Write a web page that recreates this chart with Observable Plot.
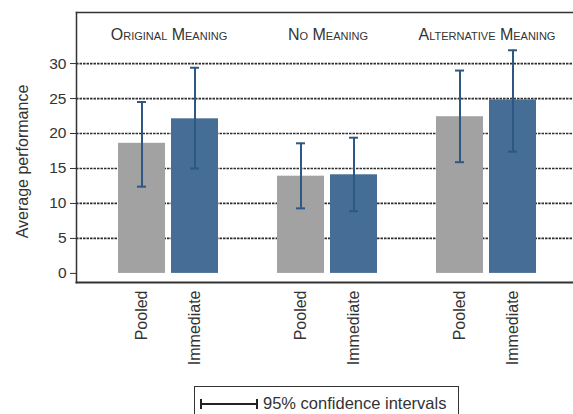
<!DOCTYPE html>
<html><head><meta charset="utf-8">
<script src="https://cdn.jsdelivr.net/npm/d3@7"></script>
<script src="https://cdn.jsdelivr.net/npm/@observablehq/plot@0.6"></script>
<style>
body{margin:0;background:#fff;font-family:"Liberation Sans",Arial,sans-serif;}
#legend{margin-left:194px;margin-top:8px;width:265px;height:34px;border:1.5px solid #333;border-bottom:none;display:flex;align-items:center;box-sizing:border-box;padding-left:5px;font-size:16.5px;color:#333;}
#legend svg{margin-right:5px;}
</style></head><body>
<div id="chart"></div>
<div id="legend"><svg width="58" height="12"><line x1="1" y1="6" x2="57" y2="6" stroke="#222" stroke-width="2"/><line x1="1" y1="1" x2="1" y2="11" stroke="#222" stroke-width="2"/><line x1="57" y1="1" x2="57" y2="11" stroke="#222" stroke-width="2"/></svg><span>95% confidence intervals</span></div>
<script>
const groups = ["Original Meaning", "No Meaning", "Alternative Meaning"];
const conditions = ["Pooled", "Immediate"];
const pooledMean = [18.6, 13.9, 22.4];
const pooledLow = [12.4, 9.3, 15.9];
const pooledHigh = [24.5, 18.6, 29.0];
const immediateMean = [22.1, 14.1, 24.8];
const immediateLow = [15.0, 8.9, 17.4];
const immediateHigh = [29.4, 19.4, 31.9];
const yTicks = [0, 5, 10, 15, 20, 25, 30];
const gridTicks = [5, 10, 15, 20, 25, 30];

const rows = [];
groups.forEach((g, i) => {
  rows.push({group: g, cond: "Pooled", key: g + "|Pooled", mean: pooledMean[i], low: pooledLow[i], high: pooledHigh[i]});
  rows.push({group: g, cond: "Immediate", key: g + "|Immediate", mean: immediateMean[i], low: immediateLow[i], high: immediateHigh[i]});
});
const xDomain = [];
groups.forEach((g, i) => {
  conditions.forEach(c => xDomain.push(g + "|" + c));
  if (i < groups.length - 1) xDomain.push("gap" + i);
});
const realKeys = rows.map(d => d.key);
const groupRows = groups.map(g => ({group: g, key: g + "|Pooled"}));
const colors = {Pooled: "#a2a2a2", Immediate: "#456d95"};

const chart = Plot.plot({
  width: 573,
  height: 378,
  marginLeft: 76,
  marginRight: 0,
  marginTop: 12,
  marginBottom: 96,
  style: {fontFamily: "'Liberation Sans', Arial, sans-serif", color: "#333", background: "#fff"},
  x: {domain: xDomain, paddingInner: 0.106, paddingOuter: 0.683, align: 0.532, axis: null},
  y: {domain: [-1.3, 37.3], axis: null},
  color: {domain: conditions, range: [colors.Pooled, colors.Immediate]},
  marks: [
    Plot.gridY(gridTicks, {stroke: "#222", strokeOpacity: 0.95, strokeWidth: 1.7, strokeDasharray: "2.5,1"}),
    Plot.axisY({ticks: yTicks, tickSize: 6, tickPadding: 4, fontSize: 15.5, label: null, stroke: "#333"}),
    Plot.axisX({ticks: realKeys, tickSize: 0, tickPadding: 8, tickRotate: -90, fontSize: 16, label: null, tickFormat: d => d.split("|")[1]}),
    Plot.barY(rows, {x: "key", y1: 0, y2: "mean", fill: d => d.cond}),
    Plot.ruleX(rows, {x: "key", y1: "low", y2: "high", stroke: "#2c5883", strokeWidth: 2}),
    Plot.tickY(rows, {x: "key", y: "low", stroke: "#2c5883", strokeWidth: 2, insetLeft: 19, insetRight: 19}),
    Plot.tickY(rows, {x: "key", y: "high", stroke: "#2c5883", strokeWidth: 2, insetLeft: 19, insetRight: 19}),
    Plot.text(groupRows, {x: "key", text: "group", frameAnchor: "top", dx: 27, dy: 16, fontSize: 16, fill: "#333", fontVariant: "small-caps"}),
    Plot.text(["Average performance"], {frameAnchor: "left", textAnchor: "middle", rotate: -90, dx: -54, dy: 14, fontSize: 16, fill: "#333"}),
    Plot.frame({anchor: "top", stroke: "#333", strokeWidth: 1.5}),
    Plot.frame({anchor: "left", stroke: "#333", strokeWidth: 1.5}),
    Plot.frame({anchor: "bottom", stroke: "#333", strokeWidth: 2})
  ]
});
document.getElementById("chart").appendChild(chart);
</script>
</body></html>
